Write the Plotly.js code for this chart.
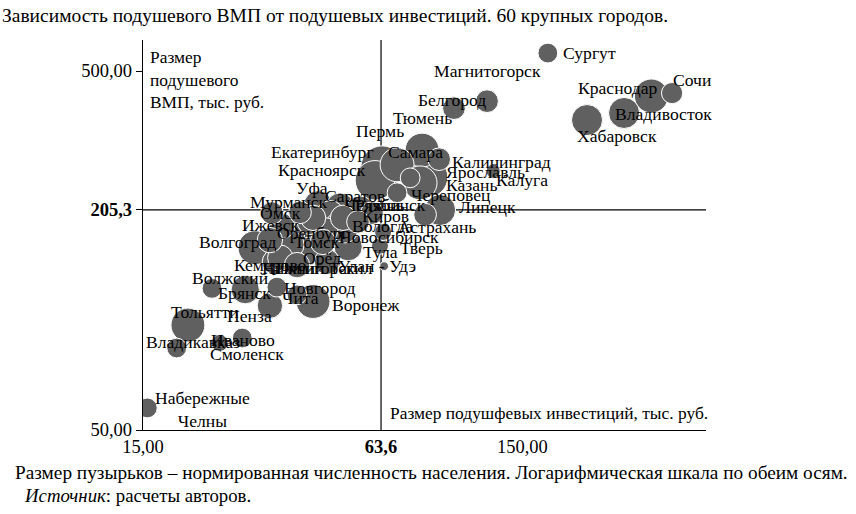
<!DOCTYPE html>
<html><head><meta charset="utf-8">
<script src="https://cdn.plot.ly/plotly-3.0.1.min.js"></script>
<style>html,body{margin:0;padding:0;background:#fff}#chart{width:856px;height:514px}</style>
</head><body><div id="chart"></div>
<script>
// ---- data ----
const cities = ["Сургут","Сочи","Краснодар","Владивосток","Хабаровск","Магнитогорск","Белгород","Тюмень","Самара","Пермь",
"Екатеринбург","Красноярск","Ярославль","Казань","Калуга","Калининград","Череповец","Липецк","Астрахань","Уфа",
"Саратов","Мурманск","Челябинск","Рязань","Омск","Киров","Ижевск","Оренбург","Томск","Новосибирск",
"Вологда","Тула","Тверь","Волгоград","Кемерово","Орёл","Пятигорск","Нижний Тагил","Улан - Удэ","Барнаул",
"Курск","Ставрополь","Иркутск","Ульяновск","Новокузнецк","Волжский","Брянск","Новгород","Пенза","Воронеж",
"Тольятти","Владикавказ","Смоленск","Иваново","Набережные<br>Челны","Чита","Ростов-на-Дону","Нижний Новгород","Тамбов","Махачкала"];
// per-capita investment, thousand rub.
const invest = [175,372,328,278,222,121,99,81.6,90.5,70.1,
64.0,61.3,84.6,80.6,125.6,75.9,70.1,91.0,83.1,43.4,
49.6,38.9,56.0,60.2,32.8,55.3,34.9,38.9,43.4,52.1,
49.0,63.2,64.4,29.6,33.4,45.8,40.6,36.6,64.8,51.1,
45.3,41.3,34.5,38.2,32.4,22.8,27.9,33.8,32.4,42.1,
19.7,18.4,23.9,27.4,15.4,38.2,46.7,50.5,44.7,42.1];
// per-capita GRP, thousand rub.
const gdp = [561,434,426,382,365,412,394,301,284,274,
270,248,253,244,263,252,229,205,199,212,
209,202,205,201,201,190,185,180,171,162,
186,163,178,161,147,147,157,164,143,180,
180,190,151,144,169,124,123,125,111,114,
98,84.6,87.4,90.2,57.6,119,199,195,167,195];
// normalized population (bubble size)
const population = [305,350,895,750,750,400,400,895,400,895,
1400,1215,1215,895,155,305,305,750,400,620,
620,400,620,400,400,400,500,620,620,620,
500,225,225,895,500,500,620,620,60,500,
500,500,500,500,500,305,620,305,500,895,
895,305,225,305,305,305,620,500,500,500];
const xTickVals = [15, 63.6, 150];
const xTickText = ["15,00", "<b>63,6</b>", "150,00"];
const yTickVals = [50, 205.3, 500];
const yTickText = ["50,00", "<b>205,3</b>", "500,00"];
const medianInvest = 63.6;
const medianGdp = 205.3;

// ---- label placement (pixel shifts from bubble centre) ----
const labelShift = {
"Сургут":[42,0],"Магнитогорск":[0,-30],"Сочи":[20,-13],"Краснодар":[-33,-8],"Владивосток":[39,1],
"Хабаровск":[30,16],"Белгород":[-2,-8],"Тюмень":[0,-32],"Самара":[-24,-7],"Пермь":[-17,-34],
"Екатеринбург":[-60,-15],"Красноярск":[-53,-10],"Ярославль":[57,-5],"Казань":[52,2],"Калуга":[29,9],
"Калининград":[91,-16],"Череповец":[54,2],"Липецк":[47,-3],"Астрахань":[12,12],"Уфа":[-6,-17],
"Саратов":[15,-11],"Мурманск":[-11,-10],"Челябинск":[25,-5],"Рязань":[8,-8],"Омск":[9,0],
"Киров":[28,-6],"Ижевск":[-12,-1],"Оренбург":[13,3],"Томск":[-1,4],"Новосибирск":[41,-10],
"Вологда":[44,1],"Тула":[0,6],"Тверь":[38,16],"Волгоград":[-18,-6],"Кемерово":[-4,3],
"Орёл":[-5,-4],"Пятигорск":[8,16],"Нижний Тагил":[28,23],"Улан - Удэ":[-7,0],"Волжский":[18,-10],
"Брянск":[-1,3],"Новгород":[43,1],"Чита":[3,3],"Воронеж":[53,3],"Тольятти":[17,-13],
"Пенза":[-20,10],"Владикавказ":[16,-6],"Иваново":[1,2],"Смоленск":[27,11],"Набережные<br>Челны":[55,2]
};

const FONT = "'Liberation Serif','Times New Roman',serif";
const L = 143, R = 150, T = 40, B = 84;
const W = 856 - L - R, H = 514 - T - B;
const xMax = 457, yMax = 610, xMin = 15, yMin = 50;

// draw big bubbles first
const order = cities.map((c, i) => i).sort((a, b) => population[b] - population[a]);

const bubbles = {
  type: "scatter", mode: "markers",
  x: order.map(i => invest[i]), y: order.map(i => gdp[i]),
  text: order.map(i => cities[i]),
  marker: { size: order.map(i => population[i]), sizemode: "area", sizeref: 1.556,
            color: "#606060", line: { color: "#ffffff", width: 1 }, opacity: 1 },
  hoverinfo: "text"
};
const vLine = { type: "scatter", mode: "lines", x: [medianInvest, medianInvest], y: [yMin, yMax],
  line: { color: "#000", width: 1.2 }, hoverinfo: "skip" };
const hLine = { type: "scatter", mode: "lines", x: [xMin, xMax], y: [medianGdp, medianGdp],
  line: { color: "#000", width: 1.2 }, hoverinfo: "skip" };

const annotations = [];
cities.forEach((c, i) => {
  const s = labelShift[c];
  if (!s) return;
  annotations.push({
    x: Math.log10(invest[i]), y: Math.log10(gdp[i]), xref: "x", yref: "y",
    text: c, showarrow: false, xanchor: "center", yanchor: "middle",
    xshift: s[0], yshift: -s[1], font: { family: FONT, size: 17.6, color: "#000" }
  });
});
const px = v => (v - L) / W, py = v => (T + H - v) / H;
annotations.push({ xref: "paper", yref: "paper", x: px(148), y: py(79), xanchor: "left", yanchor: "middle",
  align: "left", showarrow: false, text: "Размер<br>подушевого<br>ВМП, тыс. руб.",
  font: { family: FONT, size: 17.4, color: "#000" } });
annotations.push({ xref: "paper", yref: "paper", x: px(388), y: py(413), xanchor: "left", yanchor: "middle",
  showarrow: false, text: "Размер подушфевых инвестиций, тыс. руб.",
  font: { family: FONT, size: 17.4, color: "#000" } });
annotations.push({ xref: "paper", yref: "paper", x: px(13), y: py(472), xanchor: "left", yanchor: "middle",
  showarrow: false, text: "Размер пузырьков – нормированная численность населения. Логарифмическая шкала по обеим осям.",
  font: { family: FONT, size: 19.3, color: "#000" } });
annotations.push({ xref: "paper", yref: "paper", x: px(22), y: py(495), xanchor: "left", yanchor: "middle",
  showarrow: false, text: "<i>Источник</i>: расчеты авторов.",
  font: { family: FONT, size: 18.8, color: "#000" } });

const layout = {
  width: 856, height: 514,
  margin: { l: L, r: R, t: T, b: B, pad: 0 },
  paper_bgcolor: "#fff", plot_bgcolor: "#fff",
  showlegend: false, hovermode: false,
  title: { text: "Зависимость подушевого ВМП от подушевых инвестиций. 60 крупных городов.",
    font: { family: FONT, size: 19.5, color: "#000" },
    x: 2 / 856, xanchor: "left", xref: "container", y: 1 - 15 / 514, yanchor: "middle", yref: "container" },
  xaxis: { type: "log", range: [Math.log10(xMin), Math.log10(xMax)], showgrid: false, zeroline: false,
    showline: true, linecolor: "#000", linewidth: 1.2, ticks: "", tickmode: "array",
    tickvals: xTickVals, ticktext: xTickText, tickfont: { family: FONT, size: 18.5, color: "#000" } },
  yaxis: { type: "log", range: [Math.log10(yMin), Math.log10(yMax)], showgrid: false, zeroline: false,
    showline: true, linecolor: "#000", linewidth: 1.2, ticks: "outside", ticklen: 6, tickcolor: "#000",
    tickmode: "array", tickvals: yTickVals, ticktext: yTickText,
    tickfont: { family: FONT, size: 18.5, color: "#000" } },
  annotations: annotations
};

Plotly.newPlot("chart", [vLine, hLine, bubbles], layout, { displayModeBar: false, staticPlot: true });
</script></body></html>
